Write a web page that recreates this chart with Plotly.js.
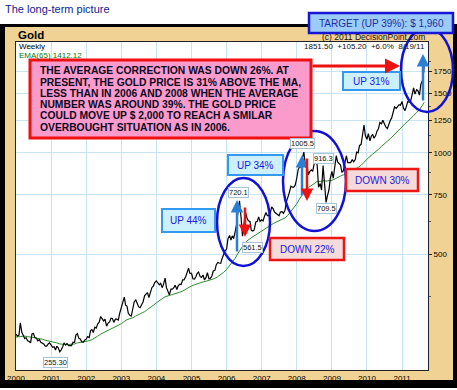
<!DOCTYPE html>
<html>
<head>
<meta charset="utf-8">
<script src="https://cdn.plot.ly/plotly-3.0.1.min.js"></script>
<style>html,body{margin:0;padding:0;background:#fff;}#chart{width:457px;height:390px;}</style>
</head>
<body>
<div id="chart"></div>
<script>
// ---------------- DATA ----------------
const yearLabels = ['2000','2001','2002','2003','2004','2005','2006','2007','2008','2009','2010','2011'];
const priceTickVals = [500, 750, 1000, 1250, 1500, 1750];
// Gold weekly close sampled on the 1st and 15th of each month (2000-01 .. 2011-08-15)
const goldPrice = [
  289,285,287,312,293,287,280,282,276,275,272,289,290,282,281,276,278,273,272,270,266,266,270,272,
  268,264,265,259,266,263,256,259,265,272,268,271,267,267,267,273,273,287,290,281,279,274,273,277,
  279,284,282,296,298,292,303,301,310,313,326,321,316,320,305,311,314,322,321,313,320,320,318,333,
  346,356,372,352,350,333,328,327,345,360,365,356,348,346,356,360,376,379,384,371,384,397,402,411,
  416,410,405,409,397,406,424,397,388,378,393,393,397,404,392,402,407,406,419,419,428,440,454,438,
  438,422,421,428,438,442,428,426,433,419,426,440,422,423,430,445,447,464,472,470,469,485,500,510,
  517,555,568,550,566,556,584,612,675,720,640,565,614,668,640,628,625,588,585,590,623,625,645,625,
  632,627,650,664,650,650,663,690,681,666,660,655,650,667,668,660,675,715,735,760,795,790,790,800,
  840,890,910,905,970,1005,905,925,860,880,890,880,930,975,915,790,810,775,916,820,712,745,775,840,
  880,840,920,980,940,930,920,875,885,930,980,935,935,935,955,940,955,1005,1000,1050,1060,1115,1210,1125,
  1096,1140,1085,1120,1135,1105,1125,1160,1180,1230,1220,1250,1210,1195,1180,1220,1250,1270,1315,1370,1355,1370,1390,1385,
  1420,1360,1335,1375,1420,1415,1430,1485,1560,1495,1540,1530,1485,1595,1640,1745
];
const lastDate = '2011-08-19';
const lastPrice = 1851.50;
// EMA(65) on the 1st of each month (2000-01 .. 2011-08)
const emaValues = [
  283,284,285,285,284,283,283,282,281,279,277,276,
  275,273,272,270,269,269,269,269,270,272,273,273,
  274,276,278,281,285,289,292,295,298,301,303,306,
  310,315,319,321,323,327,330,333,337,342,346,352,
  358,364,368,373,375,377,380,382,385,388,393,398,
  402,405,408,411,413,415,417,419,423,428,434,441,
  450,462,473,486,503,520,535,547,556,563,570,578,
  585,593,600,608,616,622,627,633,640,652,668,684,
  705,730,755,775,788,800,812,822,822,826,824,824,
  828,836,846,853,860,869,876,884,892,904,918,938,
  960,976,991,1006,1024,1045,1066,1083,1101,1124,1151,1177,
  1200,1220,1240,1262,1290,1318,1342,1385
];
const lastEma = 1412.12;

// ---------------- BUILD X ----------------
function pad(n){return (n<10?'0':'')+n;}
const priceDates = [];
for (let i = 0; i < goldPrice.length; i++) {
  const y = 2000 + Math.floor(i/24), m = Math.floor((i%24)/2)+1, d = (i%2===0)?1:15;
  priceDates.push(y+'-'+pad(m)+'-'+pad(d));
}
const priceX = priceDates.concat([lastDate]);
const priceY = goldPrice.concat([lastPrice]);
const emaX = [];
for (let i = 0; i < emaValues.length; i++) {
  emaX.push((2000+Math.floor(i/12))+'-'+pad(i%12+1)+'-01');
}
emaX.push(lastDate);
const emaY = emaValues.concat([lastEma]);
const yearTickVals = yearLabels.map(y => y+'-01-01');

// ---------------- LAYOUT HELPERS ----------------
const L=16, R=428, T=42, B=370;
const px = x => (x-L)/(R-L);
const py = y => (B-y)/(B-T);
const FONT = 'Liberation Sans, Arial, sans-serif';

const shapes = [];
function rect(x0,y0,x1,y1,fill,line,lw,layer){
  shapes.push({type:'rect',xref:'paper',yref:'paper',x0:px(x0),x1:px(x1),y0:py(y1),y1:py(y0),
    fillcolor:fill,line:{color:line||'rgba(0,0,0,0)',width:lw||0},layer:layer||'above'});
}
function ellipse(x0,y0,x1,y1,color,lw){
  shapes.push({type:'circle',xref:'paper',yref:'paper',x0:px(x0),x1:px(x1),y0:py(y1),y1:py(y0),
    line:{color:color,width:lw},fillcolor:'rgba(0,0,0,0)',layer:'above'});
}
const anns = [];
function text(t,x,y,size,color,xa,opts){
  anns.push(Object.assign({xref:'paper',yref:'paper',x:px(x),y:py(y),text:t,showarrow:false,
    xanchor:xa||'left',yanchor:'middle',font:{family:FONT,size:size,color:color}},opts||{}));
}
function arrow(x1,y1,x2,y2,color,w){
  anns.push({xref:'paper',yref:'paper',x:px(x2),y:py(y2),ax:x1-x2,ay:y1-y2,text:'',showarrow:true,
    arrowhead:2,arrowsize:1,arrowwidth:w,arrowcolor:color,standoff:0,startstandoff:0});
}
function valLabel(t,x,y){
  text(t,x,y,7.5,'#111','center',{bgcolor:'#ffffff',bordercolor:'#a9c4d6',borderwidth:1,borderpad:0});
}

// frame
rect(0,24,457,388,'#000000',null,0,'below');
rect(5,27,453,380,'#F0D294',null,0,'below');
rect(L,T,R,B,'#FFFFFF',null,0,'below');

// ellipses
ellipse(217,178,270,266,'#1111D6',2.5);
ellipse(283,131,346,231,'#1111D6',2.5);
ellipse(401,28,453,112,'#1111D6',2.5);

// pink commentary box
rect(30,60,311,138,'#FB9BCB','#F01010',3);
// target box
rect(309,13,453,33,'#9CCBF8','#1515D8',2.5);
// UP boxes
const upFill='#CDF0FF', upLine='#3399F0', dnFill='#F4DADA', dnLine='#EE1515', boxText='#1a1adf';
rect(162,209,215,232,upFill,upLine,2);
rect(228,155,283,175,upFill,upLine,2);
rect(343,72,400,90,upFill,upLine,2);
// DOWN boxes
rect(270,238,344,260,dnFill,dnLine,2.5);
rect(346,169,418,191,dnFill,dnLine,2.5);

// texts
text('The long-term picture',3,9,11,'#101C8C','left');
text('<b>Gold</b>',16,35,11.5,'#000','left');
text('Weekly',17,46,8,'#000','left');
text('EMA(65) 1412.12',17,55,8,'#0A7A0A','left');
text('(c) 2011 DecisionPoint.com',427,37,8.5,'#111','right');
text('1851.50\u00a0\u00a0+105.20\u00a0\u00a0+6.0%\u00a0\u00a08/19/11',427,46,8,'#111','right');
text('TARGET (UP 39%): $ 1,960',381,23,10,'#1a2fa0','center');

const boxLines = [
  'THE AVERAGE CORRECTION WAS DOWN 26%. AT',
  'PRESENT, THE GOLD PRICE IS 31% ABOVE THE MA,',
  'LESS THAN IN 2006 AND 2008 WHEN THE AVERAGE',
  'NUMBER WAS AROUND 39%. THE GOLD PRICE',
  'COULD MOVE UP $ 2,000 TO REACH A SMILAR',
  'OVERBOUGHT SITUATION AS IN 2006.'
];
boxLines.forEach((s,i)=>text('<b>'+s+'</b>',38,71+i*11.2,10.3,'#0a0a22','left'));

text('UP 44%',188.5,220.5,10,boxText,'center');
text('UP 34%',255.5,165,10,boxText,'center');
text('UP 31%',371.5,81,10,boxText,'center');
text('DOWN 22%',307,249,10,boxText,'center');
text('DOWN 30%',382,180,10,boxText,'center');

valLabel('720.1',238,192);
valLabel('561.5',252,247);
valLabel('1005.5',302,143);
valLabel('916.3',323,158);
valLabel('709.5',326,208);
valLabel('255.30',55,362);

// arrows
arrow(311,66,400,66,'#EE1111',3);
arrow(237,253,237,200,'#2a7fd4',2.5);
arrow(245,206,245,237,'#EE1111',2.5);
arrow(302,197,302,155,'#2a7fd4',2.5);
arrow(307,157,307,201,'#EE1111',2.5);
arrow(423,102,423,54,'#2a7fd4',2.5);

const traces = [
  {x:emaX,y:emaY,type:'scatter',mode:'lines',line:{color:'#2E8B2E',width:1},hoverinfo:'skip'},
  {x:priceX,y:priceY,type:'scatter',mode:'lines',line:{color:'#000',width:1.2},hoverinfo:'skip'}
];

const gridC = '#C8E4F4';
const layout = {
  width:457,height:390,
  margin:{l:L,r:457-R,t:T,b:390-B,pad:0},
  paper_bgcolor:'#FFFFFF',plot_bgcolor:'rgba(0,0,0,0)',
  showlegend:false,
  font:{family:FONT,size:8,color:'#000'},
  xaxis:{type:'date',range:['2000-01-01','2011-09-28'],tickmode:'array',tickvals:yearTickVals,ticktext:yearLabels,
    showgrid:true,gridcolor:gridC,gridwidth:1,zeroline:false,showline:true,linecolor:'#222',linewidth:1,mirror:true,
    ticks:'',tickfont:{family:FONT,size:8,color:'#000'},fixedrange:true},
  yaxis:{type:'log',side:'right',range:[Math.log10(225.9),Math.log10(2136)],tickmode:'array',tickvals:priceTickVals,
    ticktext:priceTickVals.map(String),showgrid:true,gridcolor:gridC,gridwidth:1,zeroline:false,showline:true,
    linecolor:'#222',linewidth:1,mirror:true,ticks:'outside',ticklen:3,tickcolor:'#222',
    minor:{tickvals:[375,625,875,1125,1375,1625,1875],ticks:'outside',ticklen:2,tickcolor:'#555',showgrid:false},
    tickfont:{family:FONT,size:8,color:'#000'},fixedrange:true},
  shapes:shapes,
  annotations:anns
};
Plotly.newPlot('chart',traces,layout,{displayModeBar:false,staticPlot:true});
</script>
</body>
</html>
